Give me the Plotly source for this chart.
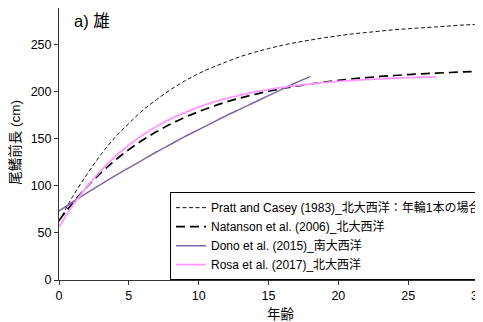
import plotly.graph_objects as go

# Ages
ages_pratt = list(range(0, 31))
ages_nat = list(range(0, 31))
ages_dono = list(range(0, 19))
ages_rosa = list(range(0, 28))

# Precaudal length (cm)
pratt = [62, 89, 112, 133, 151, 166, 180, 191.5, 202, 211, 219, 225.5, 231.5, 237, 241.5,
         245.5, 249, 252, 254.5, 257, 259, 261, 262.5, 264, 265.5, 266.5, 267.5, 268.5, 269.5, 270.5, 271]
natanson = [63, 82, 98.8, 113.7, 126.7, 138.3, 148.5, 157.5, 165.4, 172.4, 178.6, 184, 188.9, 193.1, 196.8,
            200.2, 203.1, 205.7, 207.9, 209.9, 211.7, 213.3, 214.6, 215.9, 216.9, 217.9, 218.7, 219.5, 220.1, 220.7, 221.2]
dono = [73, 83, 92.5, 101.5, 110.5, 119, 127.5, 136, 144, 152, 159.5, 167, 174.5, 181.5, 188.5, 195.5, 202.5, 209.5, 216]
rosa = [56, 79.2, 99, 116.1, 130.7, 143.2, 153.9, 163, 170.9, 177.6, 183.4, 188.4, 192.6, 196.2, 199.4,
        202, 204.3, 206.3, 207.9, 209.4, 210.6, 211.7, 212.6, 213.4, 214, 214.6, 215.1, 215.5]

names = ["Pratt and Casey (1983)_北大西洋：年輪1本の場合",
         "Natanson et al. (2006)_北大西洋",
         "Dono et al. (2015)_南大西洋",
         "Rosa et al. (2017)_北大西洋"]

x_ticks = [0, 5, 10, 15, 20, 25, 30]
y_ticks = [0, 50, 100, 150, 200, 250]

FONT = "Liberation Sans, Arial, Noto Sans CJK JP, sans-serif"
AXC = "#333333"

fig = go.Figure()
fig.add_trace(go.Scatter(x=ages_pratt, y=pratt, mode="lines", name=names[0], line_shape="spline",
                         line=dict(color="#111111", width=1, dash="4px,2.5px")))
fig.add_trace(go.Scatter(x=ages_nat, y=natanson, mode="lines", name=names[1], line_shape="spline",
                         line=dict(color="#000000", width=1.7, dash="9px,5px")))
fig.add_trace(go.Scatter(x=ages_dono, y=dono, mode="lines", name=names[2], line_shape="spline",
                         line=dict(color="#8064A2", width=1.5)))
fig.add_trace(go.Scatter(x=ages_rosa, y=rosa, mode="lines", name=names[3], line_shape="spline",
                         line=dict(color="#FF99FF", width=1.8)))

fig.update_layout(
    width=600, height=314,
    margin=dict(l=51, r=116, t=0, b=42),
    paper_bgcolor="white", plot_bgcolor="white",
    font=dict(family=FONT, size=12.5, color="#000000"),
    showlegend=True,
    legend=dict(x=0.2564, y=0.323, xanchor="left", yanchor="top",
                bordercolor="#000000", borderwidth=1, bgcolor="white",
                font=dict(size=12, family=FONT), tracegroupgap=0,
                itemwidth=30),
    xaxis=dict(range=[0, 31], tickvals=x_ticks, showgrid=False, zeroline=False,
               showline=True, linecolor=AXC, linewidth=1, automargin=False,
               ticks="outside", ticklen=4, tickcolor=AXC),
    yaxis=dict(range=[0, 288.5], tickvals=y_ticks, showgrid=False, zeroline=False,
               showline=True, linecolor=AXC, linewidth=1, automargin=False,
               ticks="outside", ticklen=4, tickcolor=AXC),
    annotations=[
        dict(text="a) 雄", x=0.030, y=0.954, xref="paper", yref="paper",
             xanchor="left", yanchor="middle", showarrow=False,
             font=dict(size=16.5, family=FONT)),
        dict(text="尾鰭前長 (cm)", x=-0.1005, y=0.506, xref="paper", yref="paper",
             xanchor="center", yanchor="middle", showarrow=False, textangle=-90,
             font=dict(size=13.5, family=FONT)),
        dict(text="年齢", x=0.5127, y=-0.125, xref="paper", yref="paper",
             xanchor="center", yanchor="middle", showarrow=False,
             font=dict(size=13.5, family=FONT)),
    ],
)

fig.write_html("out.html")
